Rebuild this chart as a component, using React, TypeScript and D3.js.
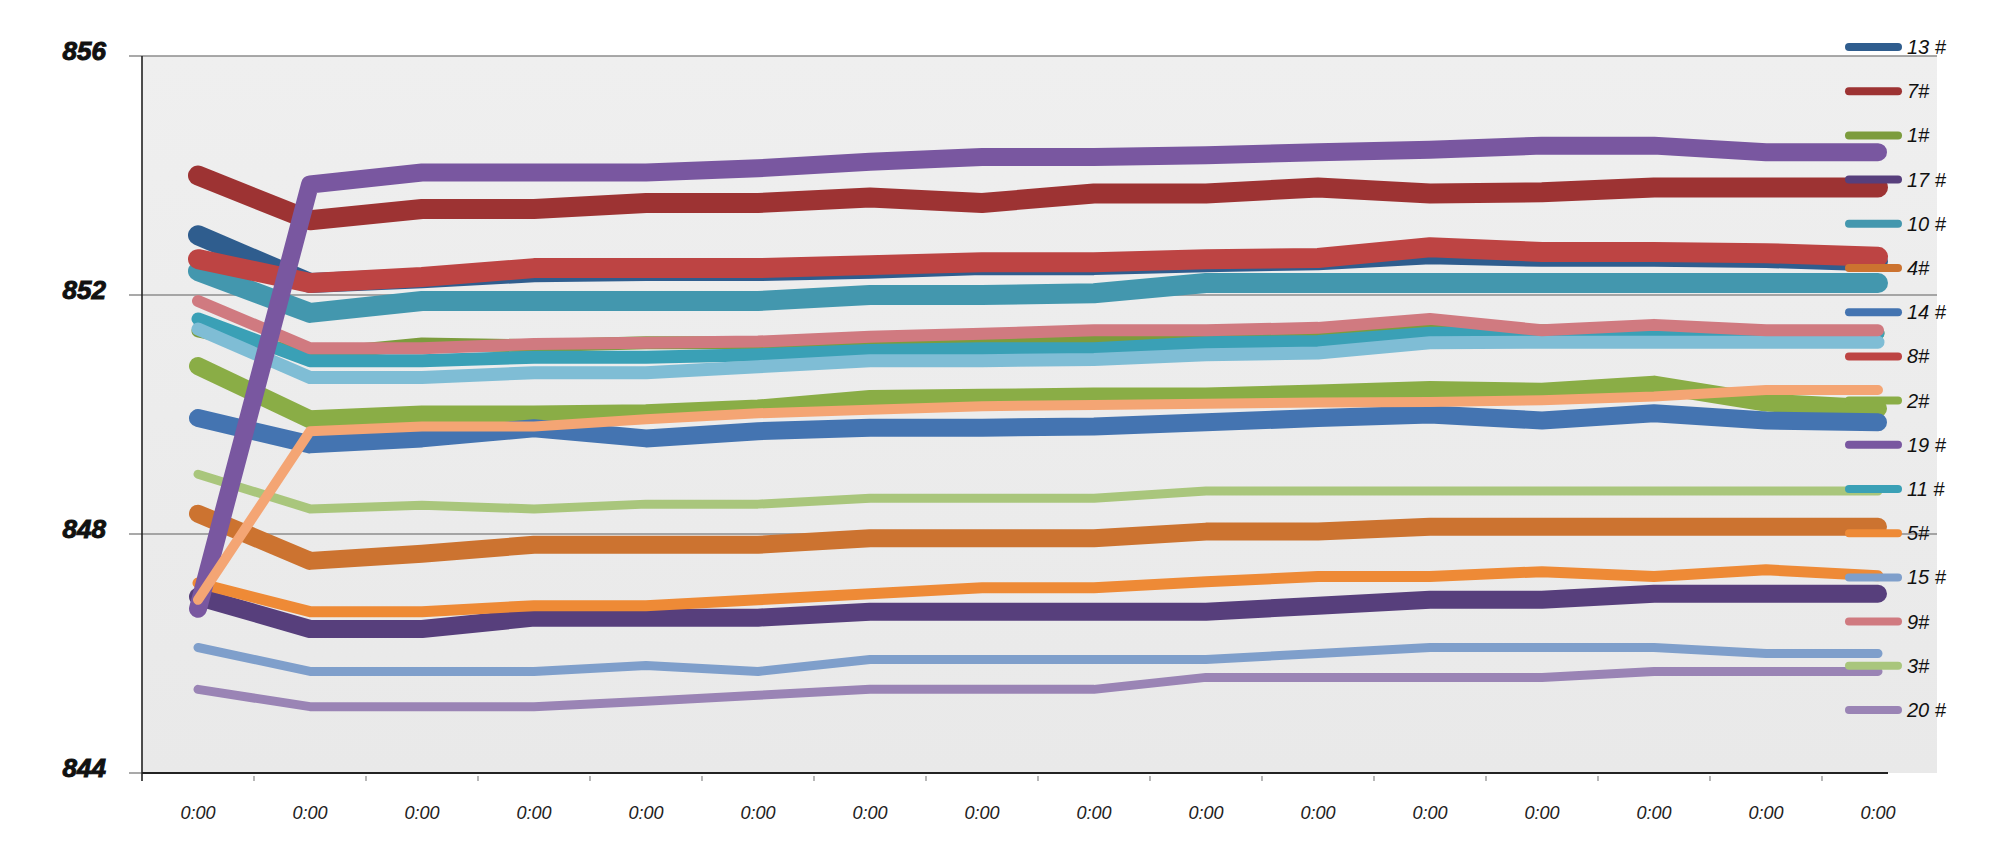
import React, { useEffect, useRef } from 'react'
import * as d3 from 'd3'

// x axis: 16 time slots, all labelled 0:00
const timeLabels = d3.range(16).map(() => '0:00')
const yTicks = [856, 852, 848, 844]

// series values, one per time slot
const s13 = [853.0, 852.2, 852.28, 852.38, 852.4, 852.4, 852.44, 852.5, 852.5, 852.55, 852.58, 852.68, 852.64, 852.64, 852.62, 852.56]
const s7 = [854.0, 853.25, 853.44, 853.44, 853.54, 853.54, 853.63, 853.54, 853.7, 853.7, 853.8, 853.7, 853.72, 853.8, 853.8, 853.8]
const s1 = [851.4, 851.0, 851.18, 851.15, 851.2, 851.2, 851.2, 851.2, 851.22, 851.25, 851.3, 851.4, 851.4, 851.4, 851.38, 851.36]
const s17 = [846.95, 846.41, 846.41, 846.6, 846.6, 846.6, 846.7, 846.7, 846.7, 846.7, 846.8, 846.9, 846.9, 847.0, 847.0, 847.0]
const s10 = [852.4, 851.7, 851.9, 851.9, 851.9, 851.9, 852.0, 852.0, 852.03, 852.2, 852.2, 852.2, 852.2, 852.2, 852.2, 852.2]
const s4 = [848.34, 847.55, 847.67, 847.82, 847.82, 847.82, 847.93, 847.93, 847.93, 848.04, 848.04, 848.12, 848.12, 848.12, 848.12, 848.12]
const s14 = [849.94, 849.5, 849.6, 849.77, 849.6, 849.72, 849.78, 849.78, 849.8, 849.87, 849.94, 850.0, 849.9, 850.02, 849.9, 849.87]
const s8 = [852.6, 852.2, 852.3, 852.45, 852.45, 852.45, 852.5, 852.55, 852.55, 852.6, 852.62, 852.8, 852.72, 852.72, 852.7, 852.64]
const s2 = [850.81, 849.92, 850.0, 850.0, 850.02, 850.1, 850.26, 850.28, 850.3, 850.3, 850.35, 850.41, 850.38, 850.5, 850.2, 850.1]
const s19 = [846.75, 853.85, 854.05, 854.05, 854.05, 854.12, 854.23, 854.31, 854.31, 854.34, 854.39, 854.43, 854.5, 854.5, 854.39, 854.39]
const s11 = [851.6, 850.9, 850.9, 850.96, 850.96, 851.0, 851.07, 851.1, 851.1, 851.2, 851.22, 851.36, 851.36, 851.36, 851.36, 851.36]
const s5 = [847.18, 846.7, 846.7, 846.8, 846.8, 846.9, 847.0, 847.1, 847.1, 847.2, 847.29, 847.29, 847.37, 847.29, 847.4, 847.3]
const s15 = [846.1, 845.7, 845.7, 845.7, 845.8, 845.7, 845.9, 845.9, 845.9, 845.9, 846.0, 846.1, 846.1, 846.1, 846.0, 846.0]
const s9 = [851.9, 851.11, 851.11, 851.18, 851.2, 851.22, 851.3, 851.35, 851.41, 851.41, 851.45, 851.6, 851.41, 851.5, 851.41, 851.41]
const s3 = [849.0, 848.42, 848.48, 848.42, 848.5, 848.5, 848.6, 848.6, 848.6, 848.72, 848.72, 848.72, 848.72, 848.72, 848.72, 848.72]
const s20 = [845.4, 845.11, 845.11, 845.11, 845.2, 845.3, 845.4, 845.4, 845.4, 845.6, 845.6, 845.6, 845.6, 845.7, 845.7, 845.7]
// two lines drawn in the chart that have no legend entry
const s12 = [851.43, 850.62, 850.62, 850.7, 850.7, 850.8, 850.9, 850.9, 850.92, 851.0, 851.03, 851.2, 851.21, 851.21, 851.21, 851.21]
const s6 = [846.9, 849.72, 849.8, 849.8, 849.92, 850.02, 850.08, 850.14, 850.16, 850.18, 850.2, 850.21, 850.24, 850.3, 850.41, 850.41]

const legendNames = ['13#', '7#', '1#', '17#', '10#', '4#', '14#', '8#', '2#', '19#', '11#', '5#', '15#', '9#', '3#', '20#']

// drawing order (later ones on top)
const series: { name: string; values: number[] }[] = [
  { name: '13#', values: s13 },
  { name: '7#', values: s7 },
  { name: '10#', values: s10 },
  { name: '8#', values: s8 },
  { name: '1#', values: s1 },
  { name: '11#', values: s11 },
  { name: '12#', values: s12 },
  { name: '9#', values: s9 },
  { name: '2#', values: s2 },
  { name: '14#', values: s14 },
  { name: '3#', values: s3 },
  { name: '4#', values: s4 },
  { name: '15#', values: s15 },
  { name: '20#', values: s20 },
  { name: '17#', values: s17 },
  { name: '5#', values: s5 },
  { name: '19#', values: s19 },
  { name: '6#', values: s6 },
]

const lineStyle: Record<string, { color: string; width: number }> = {
  '13#': { color: '#2f5d8e', width: 20 },
  '7#': { color: '#9d3333', width: 20 },
  '1#': { color: '#7c9c3d', width: 13 },
  '17#': { color: '#573f7c', width: 18 },
  '10#': { color: '#4397ae', width: 20 },
  '4#': { color: '#cc7330', width: 18 },
  '14#': { color: '#4474b1', width: 18 },
  '8#': { color: '#bd4443', width: 20 },
  '2#': { color: '#8aad46', width: 18 },
  '19#': { color: '#7957a0', width: 18 },
  '11#': { color: '#3aa0b6', width: 13 },
  '5#': { color: '#ee8a36', width: 11 },
  '15#': { color: '#7f9fcb', width: 9 },
  '9#': { color: '#d07a80', width: 12 },
  '3#': { color: '#a9c67c', width: 9 },
  '20#': { color: '#9a84b5', width: 9 },
  '12#': { color: '#7fbdd5', width: 13 },
  '6#': { color: '#f4a574', width: 10 },
}

const legendLabel = (n: string) => (n.length > 2 ? n.replace('#', ' #') : n)

const W = 2000
const H = 853
const plot = { left: 142, right: 1934, top: 56, bottom: 773 }

const App: React.FC = () => {
  const svgRef = useRef<SVGSVGElement | null>(null)

  useEffect(() => {
    if (!svgRef.current) return
    const svg = d3.select(svgRef.current)
    svg.selectAll('*').remove()

    const x = d3
      .scaleBand<number>()
      .domain(d3.range(timeLabels.length))
      .range([plot.left, plot.right])
    const y = d3.scaleLinear().domain([844, 856]).range([plot.bottom, plot.top])
    const cx = (i: number) => x(i)! + x.bandwidth() / 2

    const defs = svg.append('defs')
    const grad = defs
      .append('linearGradient')
      .attr('id', 'bg')
      .attr('x1', 0)
      .attr('x2', 0)
      .attr('y1', 0)
      .attr('y2', 1)
    grad.append('stop').attr('offset', '0%').attr('stop-color', '#efefef')
    grad.append('stop').attr('offset', '100%').attr('stop-color', '#e9e9e9')

    // plot background
    svg
      .append('rect')
      .attr('x', plot.left)
      .attr('y', plot.top)
      .attr('width', 1937 - plot.left)
      .attr('height', plot.bottom - plot.top)
      .attr('fill', 'url(#bg)')

    // grid lines + y labels
    const yg = svg.append('g')
    yg.selectAll('line')
      .data(yTicks.slice(0, 3))
      .join('line')
      .attr('x1', 129)
      .attr('x2', 1937)
      .attr('y1', (d) => y(d))
      .attr('y2', (d) => y(d))
      .attr('stroke', '#8c8c8c')
      .attr('stroke-width', 1.5)
    yg.append('line')
      .attr('x1', 129)
      .attr('x2', plot.left)
      .attr('y1', y(844))
      .attr('y2', y(844))
      .attr('stroke', '#8c8c8c')
      .attr('stroke-width', 1.5)
    yg.selectAll('text')
      .data(yTicks)
      .join('text')
      .attr('x', 106)
      .attr('y', (d) => y(d) + 4)
      .attr('text-anchor', 'end')
      .attr('font-family', 'Liberation Sans, Arial, sans-serif')
      .attr('font-weight', 'bold')
      .attr('font-style', 'italic')
      .attr('font-size', 26)
      .attr('fill', '#111')
      .attr('stroke', '#111')
      .attr('stroke-width', 1)
      .text((d) => d)

    // axes lines
    svg
      .append('line')
      .attr('x1', plot.left)
      .attr('x2', plot.left)
      .attr('y1', plot.top)
      .attr('y2', plot.bottom + 8)
      .attr('stroke', '#222')
      .attr('stroke-width', 1.6)
    svg
      .append('line')
      .attr('x1', plot.left)
      .attr('x2', 1888)
      .attr('y1', plot.bottom)
      .attr('y2', plot.bottom)
      .attr('stroke', '#222')
      .attr('stroke-width', 1.8)

    // x ticks and labels
    const xg = svg.append('g')
    xg.selectAll('line')
      .data(d3.range(1, timeLabels.length))
      .join('line')
      .attr('x1', (i) => x(i)!)
      .attr('x2', (i) => x(i)!)
      .attr('y1', plot.bottom + 3)
      .attr('y2', plot.bottom + 8)
      .attr('stroke', '#888')
      .attr('stroke-width', 1.2)
    xg.selectAll('text')
      .data(timeLabels)
      .join('text')
      .attr('x', (_, i) => cx(i))
      .attr('y', 819)
      .attr('text-anchor', 'middle')
      .attr('font-family', 'Liberation Sans, Arial, sans-serif')
      .attr('font-style', 'italic')
      .attr('font-size', 18)
      .attr('fill', '#222')
      .text((d) => d)

    // lines
    const line = d3
      .line<number>()
      .x((_, i) => cx(i))
      .y((d) => y(d))
    svg
      .append('g')
      .selectAll('path')
      .data(series)
      .join('path')
      .attr('d', (s) => line(s.values))
      .attr('fill', 'none')
      .attr('stroke', (s) => lineStyle[s.name].color)
      .attr('stroke-width', (s) => lineStyle[s.name].width)
      .attr('stroke-linecap', 'round')
      .attr('stroke-linejoin', 'round')

    // legend
    const lg = svg
      .append('g')
      .selectAll('g')
      .data(legendNames)
      .join('g')
      .attr('transform', (_, i) => `translate(1845, ${47 + i * 44.2})`)
    lg.append('line')
      .attr('x1', 4)
      .attr('x2', 53)
      .attr('stroke', (d) => lineStyle[d].color)
      .attr('stroke-width', 8)
      .attr('stroke-linecap', 'round')
    lg.append('text')
      .attr('x', 62)
      .attr('y', 7)
      .attr('font-family', 'Liberation Sans, Arial, sans-serif')
      .attr('font-style', 'italic')
      .attr('font-size', 20)
      .attr('fill', '#111')
      .text((d) => legendLabel(d))
  }, [])

  return (
    <svg
      ref={svgRef}
      width={W}
      height={H}
      style={{ position: 'absolute', left: 0, top: 0, background: '#fff' }}
    ></svg>
  )
}

export default App
